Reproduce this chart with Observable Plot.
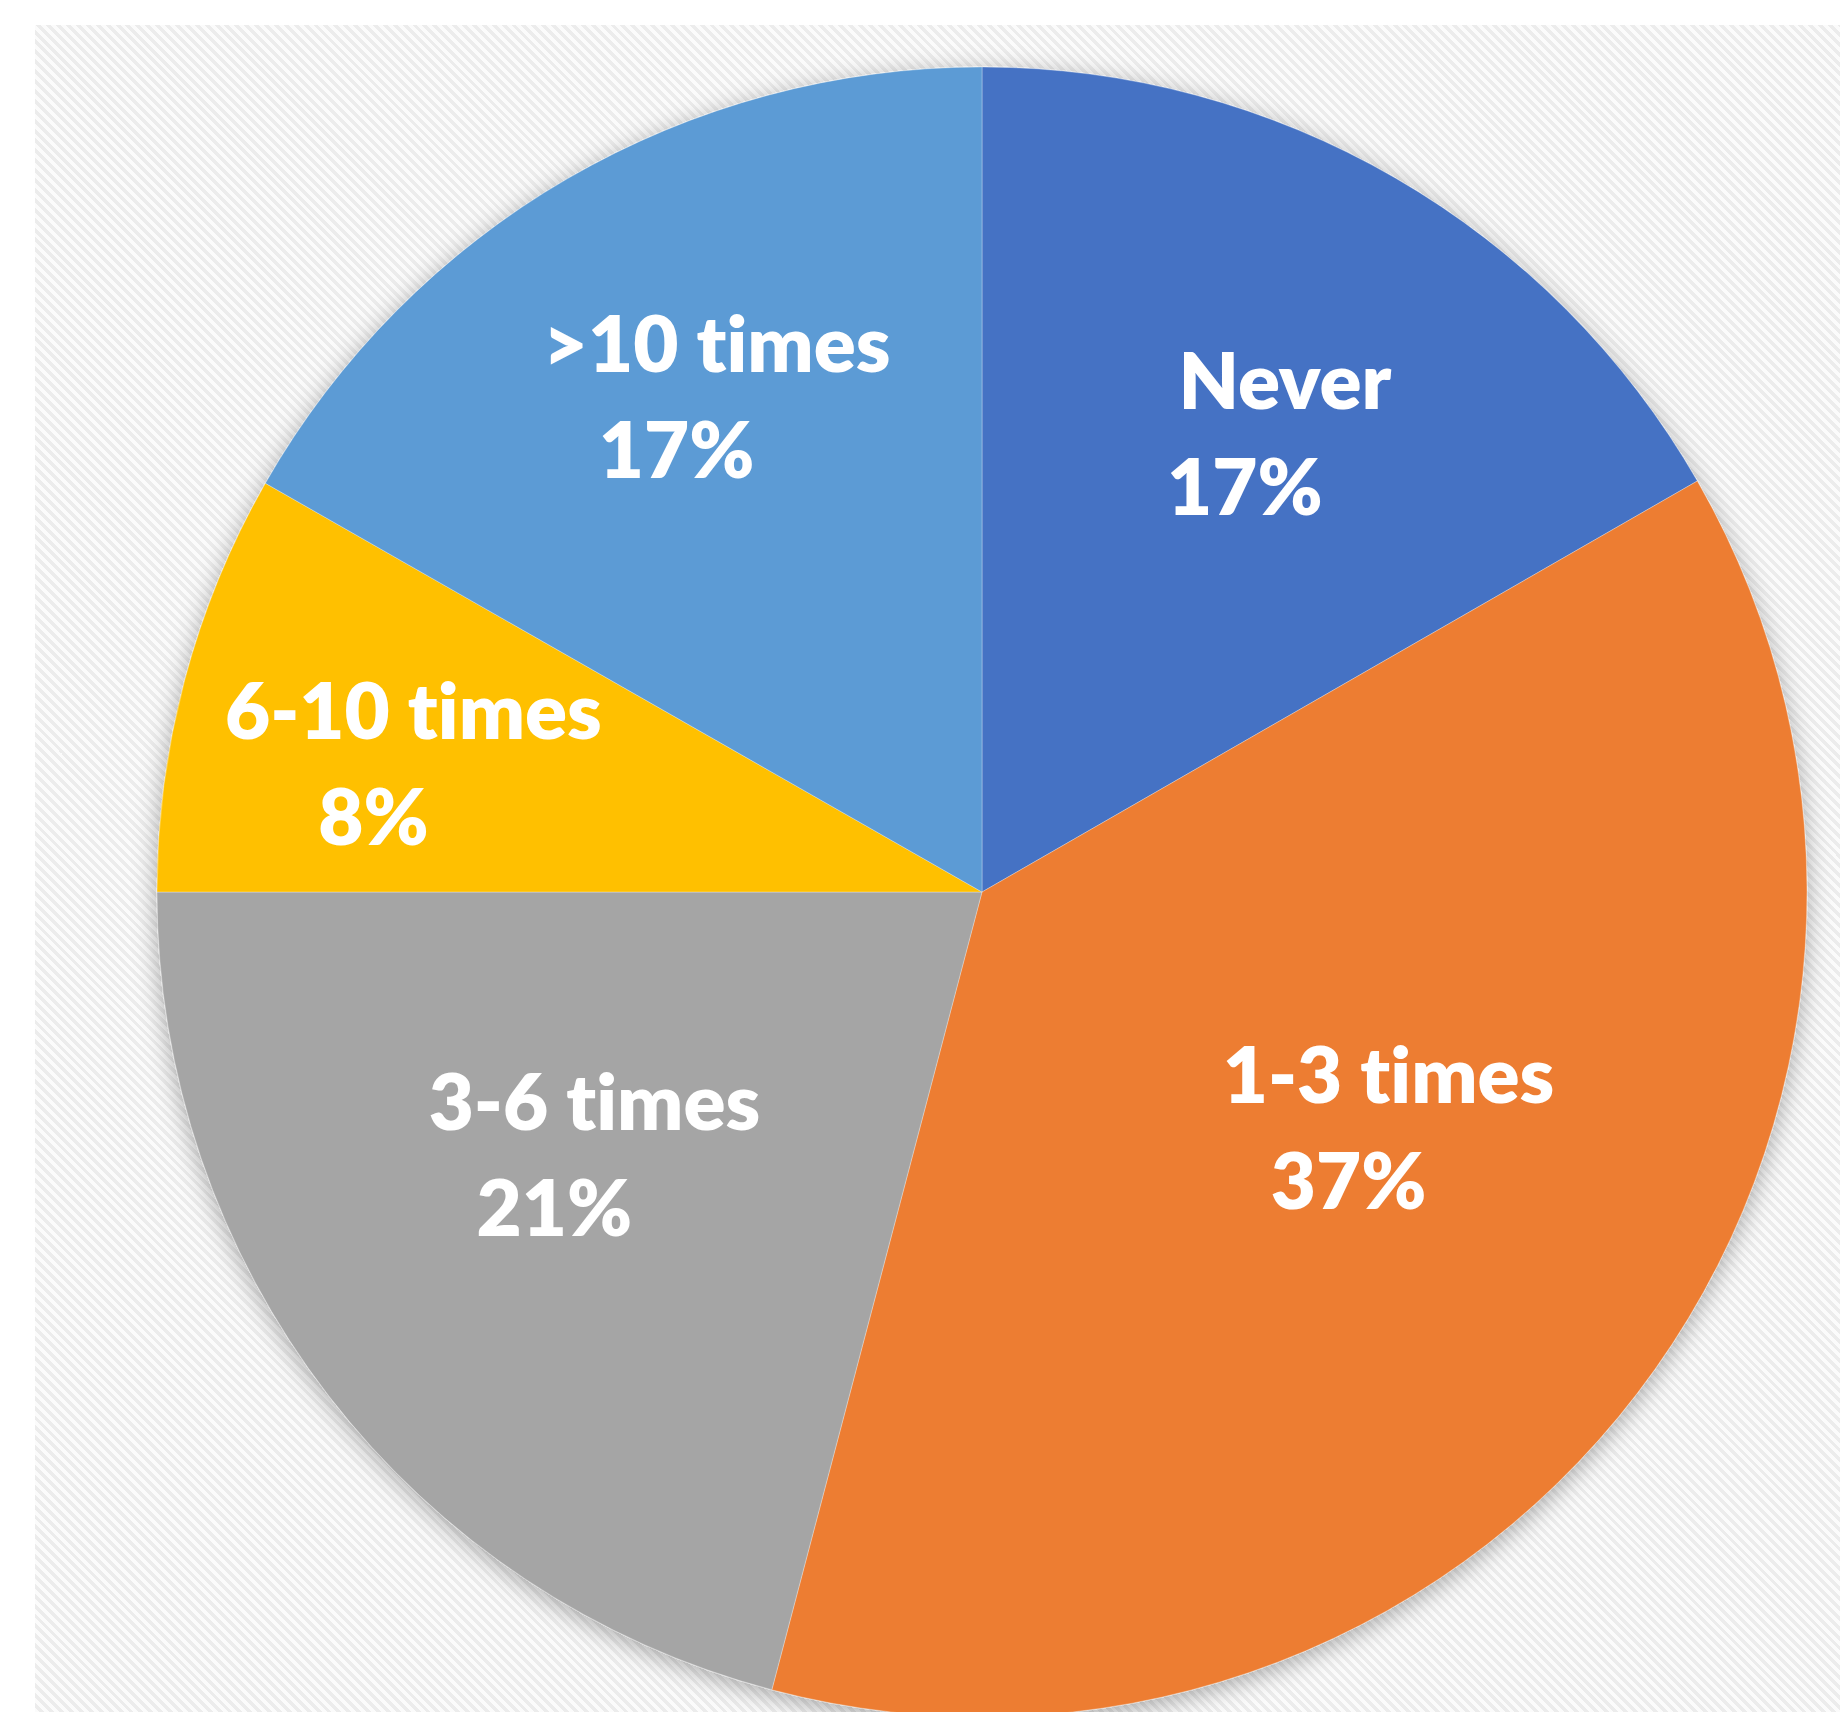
<!DOCTYPE html>
<html>
<head>
<meta charset="utf-8">
<script src="https://cdn.jsdelivr.net/npm/d3@7"></script>
<script src="https://cdn.jsdelivr.net/npm/@observablehq/plot@0.6"></script>
<style>
  html, body { margin: 0; padding: 0; background: #ffffff; }
  #wrap { position: relative; width: 1840px; height: 1712px; overflow: hidden; background: #ffffff; }
  #bg { position: absolute; left: 35px; top: 25px; right: 0; bottom: 0;
        background: repeating-linear-gradient(45deg, #fbfbfb 0px, #fbfbfb 3.5px, #ececec 3.5px, #ececec 7px); }
  #chart { position: absolute; left: 0; top: 0; }
  #chart svg { display: block; background: transparent; }
  #chart text { font-variant-ligatures: none; font-feature-settings: "liga" 0, "clig" 0; }
</style>
</head>
<body>
<div id="wrap"><div id="bg"></div><div id="chart"></div></div>
<script>
// Data (percent of respondents)
const categories = ["Never", "1-3 times", "3-6 times", "6-10 times", ">10 times"];
const values = [16.7, 37.4, 20.9, 8.25, 16.75];
const colors = ["#4472C4", "#ED7D31", "#A5A5A5", "#FFC000", "#5B9BD5"];

// Layout (not data): radial position of each label as a fraction of radius
const labelRadius = [0.65, 0.55, 0.59, 0.73, 0.69];
const labelAngleShift = [0.03, -0.1, 0.08, -0.05, 0.0];

const pie = d3.pie().sort(null).value(d => d.value);
const slices = pie(categories.map((c, i) => ({category: c, value: values[i], color: colors[i]})))
  .map((a, i) => {
    const mid = (a.startAngle + a.endAngle) / 2 + labelAngleShift[i];
    const r = labelRadius[i];
    return {
      category: a.data.category,
      value: a.data.value,
      color: a.data.color,
      startAngle: a.startAngle,
      endAngle: a.endAngle,
      lx: r * Math.sin(mid),
      ly: r * Math.cos(mid),
      pct: Math.round(a.data.value) + "%"
    };
  });

const cx = 982, cy = 892, R = 825;

function pieMark(index, scales, values, dimensions, context) {
  const x = scales.x, y = scales.y;
  const ox = x(0), oy = y(0);
  const rad = x(1) - x(0);
  const arc = d3.arc().innerRadius(0).outerRadius(rad);
  const svgns = "http://www.w3.org/2000/svg";
  const g = document.createElementNS(svgns, "g");
  const defs = document.createElementNS(svgns, "defs");
  defs.innerHTML = `<filter id="pieShadow" x="-20%" y="-20%" width="140%" height="140%">
      <feDropShadow dx="0" dy="5" stdDeviation="12" flood-color="#000" flood-opacity="0.33"/>
    </filter>`;
  g.appendChild(defs);
  const inner = document.createElementNS(svgns, "g");
  inner.setAttribute("transform", `translate(${ox},${oy})`);
  inner.setAttribute("filter", "url(#pieShadow)");
  for (const s of slices) {
    const p = document.createElementNS(svgns, "path");
    p.setAttribute("d", arc({startAngle: s.startAngle, endAngle: s.endAngle}));
    p.setAttribute("fill", s.color);
    p.setAttribute("stroke", "#ffffff");
    p.setAttribute("stroke-opacity", "0.3");
    p.setAttribute("stroke-width", "1");
    p.setAttribute("stroke-linejoin", "round");
    inner.appendChild(p);
  }
  g.appendChild(inner);
  return g;
}

const textStyle = {
  fill: "#ffffff", fontSize: 78, fontWeight: 800,
  fontFamily: "Lato, 'Open Sans', sans-serif"
};

const chart = Plot.plot({
  width: 1840,
  height: 1712,
  margin: 0,
  style: {background: "transparent", overflow: "visible"},
  x: {domain: [-1, 1], range: [cx - R, cx + R], axis: null},
  y: {domain: [-1, 1], range: [cy + R, cy - R], axis: null},
  marks: [
    pieMark,
    Plot.text(slices, {x: "lx", y: "ly", text: "category", dx: 20, dy: -53, ...textStyle}),
    Plot.text(slices, {x: "lx", y: "ly", text: "pct", dx: -20, dy: 53, ...textStyle})
  ]
});
document.getElementById("chart").appendChild(chart);
</script>
</body>
</html>
